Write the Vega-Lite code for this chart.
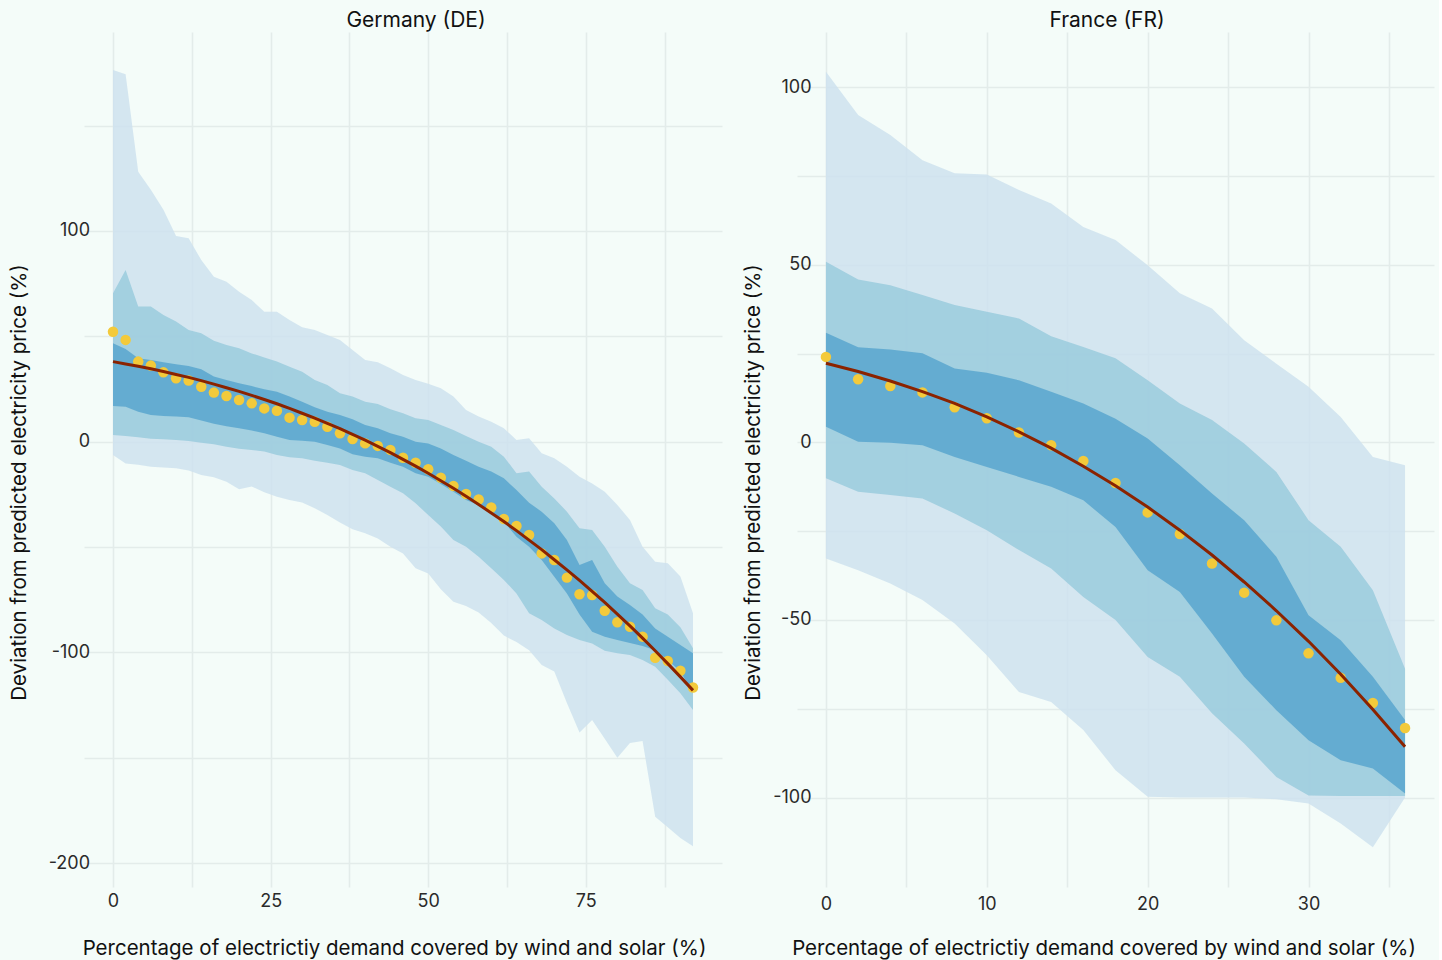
{
  "$schema": "https://vega.github.io/schema/vega-lite/v6.json",
  "padding": {"left": 9, "top": 10, "right": 5, "bottom": 3},
  "spacing": 21,
  "config": {
    "background": "#F4FCF9",
    "font": "Inter",
    "view": {"stroke": null},
    "axis": {
      "ticks": false,
      "domain": false,
      "gridColor": "#E3ECEA",
      "gridWidth": 1.6,
      "labelFont": "Inter",
      "labelFontSize": 18,
      "labelColor": "#2a2a2a",
      "titleFont": "Inter",
      "titleFontSize": 20.5,
      "titleFontWeight": "normal",
      "titleColor": "#111111"
    },
    "title": {"font": "Inter", "fontSize": 21, "fontWeight": "normal", "color": "#111111", "offset": 1}
  },
  "datasets": {
    "de": [
      {"x": 0, "ohi": 176.4, "olo": -6.3, "mhi": 70.4, "mlo": 3.2, "dhi": 46.7, "dlo": 16.9, "obs": 52.2, "fit": 38},
      {"x": 2, "ohi": 174.4, "olo": -10.3, "mhi": 81.5, "mlo": 2.7, "dhi": 44, "dlo": 16.6, "obs": 48.3, "fit": 36.9},
      {"x": 4, "ohi": 128.1, "olo": -11, "mhi": 64.1, "mlo": 2.1, "dhi": 39.6, "dlo": 14.2, "obs": 38, "fit": 35.8},
      {"x": 6, "ohi": 119.5, "olo": -11.9, "mhi": 64.1, "mlo": 1.4, "dhi": 38.8, "dlo": 12.7, "obs": 36.1, "fit": 34.6},
      {"x": 8, "ohi": 110, "olo": -12.2, "mhi": 60.1, "mlo": 1.1, "dhi": 37.7, "dlo": 12.2, "obs": 32.9, "fit": 33.3},
      {"x": 10, "ohi": 97.6, "olo": -12.6, "mhi": 57, "mlo": 0.8, "dhi": 36.7, "dlo": 11.9, "obs": 30.1, "fit": 31.9},
      {"x": 12, "ohi": 96.5, "olo": -13.7, "mhi": 53, "mlo": 0.3, "dhi": 35.9, "dlo": 11.6, "obs": 29, "fit": 30.5},
      {"x": 14, "ohi": 86.2, "olo": -15.8, "mhi": 51.4, "mlo": -0.5, "dhi": 34.4, "dlo": 10, "obs": 26.1, "fit": 29},
      {"x": 16, "ohi": 78.3, "olo": -16.9, "mhi": 47.9, "mlo": -1.2, "dhi": 30.9, "dlo": 8.5, "obs": 23.3, "fit": 27.3},
      {"x": 18, "ohi": 75.9, "olo": -19, "mhi": 45.9, "mlo": -2.4, "dhi": 29.3, "dlo": 7.3, "obs": 21.7, "fit": 25.6},
      {"x": 20, "ohi": 71.2, "olo": -22.6, "mhi": 44.3, "mlo": -3.3, "dhi": 27.7, "dlo": 6.4, "obs": 19.8, "fit": 23.9},
      {"x": 22, "ohi": 67.2, "olo": -21.3, "mhi": 41.9, "mlo": -3.9, "dhi": 26.4, "dlo": 5.3, "obs": 18.2, "fit": 22},
      {"x": 24, "ohi": 61.7, "olo": -24, "mhi": 40, "mlo": -4.7, "dhi": 24.9, "dlo": 4, "obs": 15.8, "fit": 20},
      {"x": 26, "ohi": 61.7, "olo": -26.1, "mhi": 38, "mlo": -6.3, "dhi": 23.7, "dlo": 2.4, "obs": 14.7, "fit": 18},
      {"x": 28, "ohi": 57.8, "olo": -27.7, "mhi": 35.6, "mlo": -7.4, "dhi": 21.4, "dlo": 0.8, "obs": 11.4, "fit": 15.8},
      {"x": 30, "ohi": 54.3, "olo": -28.9, "mhi": 33.2, "mlo": -7.9, "dhi": 19, "dlo": 0.5, "obs": 10.3, "fit": 13.5},
      {"x": 32, "ohi": 53, "olo": -31.6, "mhi": 29.3, "mlo": -9, "dhi": 16.3, "dlo": 0, "obs": 9.5, "fit": 11.2},
      {"x": 34, "ohi": 50.6, "olo": -34.8, "mhi": 26.9, "mlo": -10, "dhi": 14.2, "dlo": -1.6, "obs": 7.1, "fit": 8.7},
      {"x": 36, "ohi": 48.3, "olo": -38.4, "mhi": 23, "mlo": -11.1, "dhi": 12.7, "dlo": -3.2, "obs": 4, "fit": 6.2},
      {"x": 38, "ohi": 43.5, "olo": -41.6, "mhi": 21.4, "mlo": -13.4, "dhi": 10.6, "dlo": -5.9, "obs": 1.3, "fit": 3.5},
      {"x": 40, "ohi": 38.8, "olo": -43.5, "mhi": 19, "mlo": -15, "dhi": 7.9, "dlo": -7.1, "obs": -0.8, "fit": 0.7},
      {"x": 42, "ohi": 37.7, "olo": -45.9, "mhi": 17.9, "mlo": -18.2, "dhi": 6.4, "dlo": -7.9, "obs": -2, "fit": -2.2},
      {"x": 44, "ohi": 34.8, "olo": -49.8, "mhi": 15.4, "mlo": -21.4, "dhi": 4, "dlo": -10, "obs": -3.9, "fit": -5.2},
      {"x": 46, "ohi": 31.7, "olo": -53, "mhi": 13.5, "mlo": -24.5, "dhi": 2.4, "dlo": -11.9, "obs": -7.6, "fit": -8.4},
      {"x": 48, "ohi": 29.3, "olo": -60.1, "mhi": 11.1, "mlo": -29.2, "dhi": 0, "dlo": -15, "obs": -10, "fit": -11.6},
      {"x": 50, "ohi": 27.5, "olo": -62.5, "mhi": 10.3, "mlo": -34.8, "dhi": -0.8, "dlo": -16.6, "obs": -13.1, "fit": -15},
      {"x": 52, "ohi": 25.3, "olo": -70, "mhi": 7.9, "mlo": -40.3, "dhi": -3.2, "dlo": -20.1, "obs": -17.1, "fit": -18.5},
      {"x": 54, "ohi": 21.4, "olo": -76, "mhi": 5.6, "mlo": -46.7, "dhi": -6.3, "dlo": -23.7, "obs": -21, "fit": -22.1},
      {"x": 56, "ohi": 15, "olo": -78, "mhi": 2.7, "mlo": -49.8, "dhi": -9, "dlo": -27.7, "obs": -24.8, "fit": -25.9},
      {"x": 58, "ohi": 11.9, "olo": -81, "mhi": 0, "mlo": -54.6, "dhi": -11.9, "dlo": -30, "obs": -27.4, "fit": -29.8},
      {"x": 60, "ohi": 9.5, "olo": -86, "mhi": -2.4, "mlo": -60.1, "dhi": -14.2, "dlo": -33.2, "obs": -31.2, "fit": -33.8},
      {"x": 62, "ohi": 6.4, "olo": -92, "mhi": -7.1, "mlo": -65.6, "dhi": -17.4, "dlo": -38, "obs": -36.7, "fit": -37.9},
      {"x": 64, "ohi": 0.8, "olo": -95, "mhi": -15, "mlo": -72, "dhi": -22.9, "dlo": -45.1, "obs": -40, "fit": -42.2},
      {"x": 66, "ohi": 1.6, "olo": -99, "mhi": -14.2, "mlo": -81.4, "dhi": -29, "dlo": -49.8, "obs": -44.3, "fit": -46.7},
      {"x": 68, "ohi": -5.5, "olo": -106, "mhi": -21.4, "mlo": -84.6, "dhi": -33.2, "dlo": -56.1, "obs": -53, "fit": -51.2},
      {"x": 70, "ohi": -7.9, "olo": -109, "mhi": -26.9, "mlo": -88.6, "dhi": -38.7, "dlo": -64.1, "obs": -56.1, "fit": -56},
      {"x": 72, "ohi": -11.9, "olo": -124, "mhi": -33.2, "mlo": -91.7, "dhi": -46.7, "dlo": -72, "obs": -64.5, "fit": -60.8},
      {"x": 74, "ohi": -16.6, "olo": -138, "mhi": -41.1, "mlo": -94.1, "dhi": -58.5, "dlo": -82, "obs": -72.4, "fit": -65.8},
      {"x": 76, "ohi": -19.8, "olo": -132, "mhi": -41.9, "mlo": -95.7, "dhi": -56.1, "dlo": -90.2, "obs": -72.8, "fit": -71},
      {"x": 78, "ohi": -23.7, "olo": -141, "mhi": -49.8, "mlo": -99.2, "dhi": -67.2, "dlo": -92.5, "obs": -80.2, "fit": -76.3},
      {"x": 80, "ohi": -30, "olo": -150, "mhi": -59.3, "mlo": -100.4, "dhi": -73.5, "dlo": -94.1, "obs": -85.7, "fit": -81.8},
      {"x": 82, "ohi": -37.2, "olo": -143, "mhi": -67.2, "mlo": -101.2, "dhi": -77.5, "dlo": -95.5, "obs": -87.8, "fit": -87.4},
      {"x": 84, "ohi": -49.8, "olo": -142, "mhi": -70.4, "mlo": -103.6, "dhi": -82, "dlo": -97, "obs": -92.5, "fit": -93.2},
      {"x": 86, "ohi": -57, "olo": -178, "mhi": -79, "mlo": -106.8, "dhi": -88.6, "dlo": -99, "obs": -102.5, "fit": -99.2},
      {"x": 88, "ohi": -57.7, "olo": -183, "mhi": -82, "mlo": -113, "dhi": -92.5, "dlo": -103.6, "obs": -104.1, "fit": -105.3},
      {"x": 90, "ohi": -64, "olo": -188, "mhi": -88, "mlo": -119.4, "dhi": -96.5, "dlo": -109, "obs": -108.7, "fit": -111.6},
      {"x": 92, "ohi": -81.4, "olo": -192, "mhi": -98, "mlo": -127.3, "dhi": -100.4, "dlo": -119, "obs": -116.6, "fit": -118}
    ],
    "fr": [
      {"x": 0, "ohi": 104.4, "olo": -32.7, "mhi": 50.9, "mlo": -10.1, "dhi": 30.9, "dlo": 4.4, "obs": 24.1, "fit": 22.3},
      {"x": 2, "ohi": 92.2, "olo": -36, "mhi": 45.9, "mlo": -13.9, "dhi": 26.8, "dlo": 0.2, "obs": 17.8, "fit": 20},
      {"x": 4, "ohi": 86.6, "olo": -39.7, "mhi": 44.3, "mlo": -14.8, "dhi": 26.2, "dlo": -0.1, "obs": 15.9, "fit": 17.3},
      {"x": 6, "ohi": 79.5, "olo": -44.4, "mhi": 41.5, "mlo": -15.8, "dhi": 25.1, "dlo": -0.8, "obs": 14.1, "fit": 14.3},
      {"x": 8, "ohi": 75.8, "olo": -51, "mhi": 38.7, "mlo": -20, "dhi": 20.8, "dlo": -4.1, "obs": 9.9, "fit": 11},
      {"x": 10, "ohi": 75.5, "olo": -59.9, "mhi": 36.8, "mlo": -24.7, "dhi": 19.6, "dlo": -6.9, "obs": 6.8, "fit": 7.2},
      {"x": 12, "ohi": 71.1, "olo": -70.3, "mhi": 34.9, "mlo": -30.3, "dhi": 17.5, "dlo": -9.7, "obs": 2.8, "fit": 3},
      {"x": 14, "ohi": 67.3, "olo": -73.1, "mhi": 29.9, "mlo": -35.5, "dhi": 14.3, "dlo": -12.5, "obs": -0.8, "fit": -1.6},
      {"x": 16, "ohi": 60.7, "olo": -81, "mhi": 26.9, "mlo": -43.5, "dhi": 11, "dlo": -16.3, "obs": -5.2, "fit": -6.7},
      {"x": 18, "ohi": 57, "olo": -92.3, "mhi": 23.7, "mlo": -50, "dhi": 6.7, "dlo": -23.8, "obs": -11.4, "fit": -12.2},
      {"x": 20, "ohi": 49.9, "olo": -99.8, "mhi": 17.5, "mlo": -60.4, "dhi": 1.1, "dlo": -36, "obs": -19.7, "fit": -18.2},
      {"x": 22, "ohi": 42, "olo": -100, "mhi": 11, "mlo": -66, "dhi": -6.4, "dlo": -42.1, "obs": -25.8, "fit": -24.7},
      {"x": 24, "ohi": 37.7, "olo": -100, "mhi": 6.3, "mlo": -76.3, "dhi": -14.4, "dlo": -53.8, "obs": -34.1, "fit": -31.7},
      {"x": 26, "ohi": 28.8, "olo": -100, "mhi": -0.3, "mlo": -84.8, "dhi": -21.9, "dlo": -66, "obs": -42.3, "fit": -39.3},
      {"x": 28, "ohi": 22.2, "olo": -100.5, "mhi": -8.3, "mlo": -94.2, "dhi": -32.2, "dlo": -75.4, "obs": -50.1, "fit": -47.4},
      {"x": 30, "ohi": 15.7, "olo": -101.7, "mhi": -21.9, "mlo": -99.4, "dhi": -48.7, "dlo": -83.9, "obs": -59.4, "fit": -56},
      {"x": 32, "ohi": 7.2, "olo": -107.3, "mhi": -29.4, "mlo": -99.6, "dhi": -55.7, "dlo": -89.5, "obs": -66.3, "fit": -65.3},
      {"x": 34, "ohi": -4.1, "olo": -114, "mhi": -41.6, "mlo": -99.6, "dhi": -66, "dlo": -91.8, "obs": -73.4, "fit": -75.2},
      {"x": 36, "ohi": -6.4, "olo": -100, "mhi": -63.7, "mlo": -99.6, "dhi": -78.2, "dlo": -98.9, "obs": -80.4, "fit": -85.7}
    ]
  },
  "hconcat": [
    {
      "width": 638,
      "height": 855,
      "title": {"text": "Germany (DE)", "dx": 13},
      "data": {"name": "de"},
      "encoding": {
        "x": {
          "field": "x", "type": "quantitative",
          "title": "Percentage of electrictiy demand covered by wind and solar (%)",
          "scale": {"domain": [-4.6, 96.6], "nice": false, "zero": false},
          "axis": {"values": [0, 12.5, 25, 37.5, 50, 62.5, 75, 87.5], "labelExpr": "datum.value % 25 == 0 ? '' + datum.value : ''", "labelPadding": 5, "titlePadding": 28, "titleX": 310}
        }
      },
      "layer": [
        {
          "mark": {"type": "area", "color": "#CEE2EE", "opacity": 0.85},
          "encoding": {
            "y": {"field": "ohi", "type": "quantitative", "title": "Deviation from predicted electricity price (%)",
              "scale": {"domain": [-211.3, 194.4], "nice": false, "zero": false},
              "axis": {"values": [-200, -150, -100, -50, 0, 50, 100, 150], "labelExpr": "datum.value % 100 == 0 ? '' + datum.value : ''", "labelPadding": -5.5, "titlePadding": 19, "titleY": 450}},
            "y2": {"field": "olo"}
          }
        },
        {
          "mark": {"type": "area", "color": "#9ACBDD", "opacity": 0.85},
          "encoding": {"y": {"field": "mhi", "type": "quantitative", "title": "Deviation from predicted electricity price (%)"}, "y2": {"field": "mlo"}}
        },
        {
          "mark": {"type": "area", "color": "#59A6CE", "opacity": 0.85},
          "encoding": {"y": {"field": "dhi", "type": "quantitative", "title": "Deviation from predicted electricity price (%)"}, "y2": {"field": "dlo"}}
        },
        {
          "mark": {"type": "circle", "color": "#F3CA3B", "opacity": 1, "size": 110},
          "encoding": {"y": {"field": "obs", "type": "quantitative", "title": "Deviation from predicted electricity price (%)"}}
        },
        {
          "mark": {"type": "line", "color": "#8B2300", "strokeWidth": 3},
          "encoding": {"y": {"field": "fit", "type": "quantitative", "title": "Deviation from predicted electricity price (%)"}}
        }
      ]
    },
    {
      "width": 637,
      "height": 855,
      "title": {"text": "France (FR)", "dx": -8.5},
      "data": {"name": "fr"},
      "encoding": {
        "x": {
          "field": "x", "type": "quantitative",
          "title": "Percentage of electrictiy demand covered by wind and solar (%)",
          "scale": {"domain": [-1.8, 37.8], "nice": false, "zero": false},
          "axis": {"values": [0, 5, 10, 15, 20, 25, 30, 35], "labelExpr": "datum.value % 10 == 0 ? '' + datum.value : ''", "labelPadding": 8, "titlePadding": 25, "titleX": 306.5}
        }
      },
      "layer": [
        {
          "mark": {"type": "area", "color": "#CEE2EE", "opacity": 0.85},
          "encoding": {
            "y": {"field": "ohi", "type": "quantitative", "title": "Deviation from predicted electricity price (%)",
              "scale": {"domain": [-125.2, 115.6], "nice": false, "zero": false},
              "axis": {"values": [-100, -75, -50, -25, 0, 25, 50, 75, 100], "labelExpr": "datum.value % 50 == 0 ? '' + datum.value : ''", "labelPadding": -14, "titlePadding": 9, "titleY": 450}},
            "y2": {"field": "olo"}
          }
        },
        {
          "mark": {"type": "area", "color": "#9ACBDD", "opacity": 0.85},
          "encoding": {"y": {"field": "mhi", "type": "quantitative", "title": "Deviation from predicted electricity price (%)"}, "y2": {"field": "mlo"}}
        },
        {
          "mark": {"type": "area", "color": "#59A6CE", "opacity": 0.85},
          "encoding": {"y": {"field": "dhi", "type": "quantitative", "title": "Deviation from predicted electricity price (%)"}, "y2": {"field": "dlo"}}
        },
        {
          "mark": {"type": "circle", "color": "#F3CA3B", "opacity": 1, "size": 110},
          "encoding": {"y": {"field": "obs", "type": "quantitative", "title": "Deviation from predicted electricity price (%)"}}
        },
        {
          "mark": {"type": "line", "color": "#8B2300", "strokeWidth": 3},
          "encoding": {"y": {"field": "fit", "type": "quantitative", "title": "Deviation from predicted electricity price (%)"}}
        }
      ]
    }
  ]
}
